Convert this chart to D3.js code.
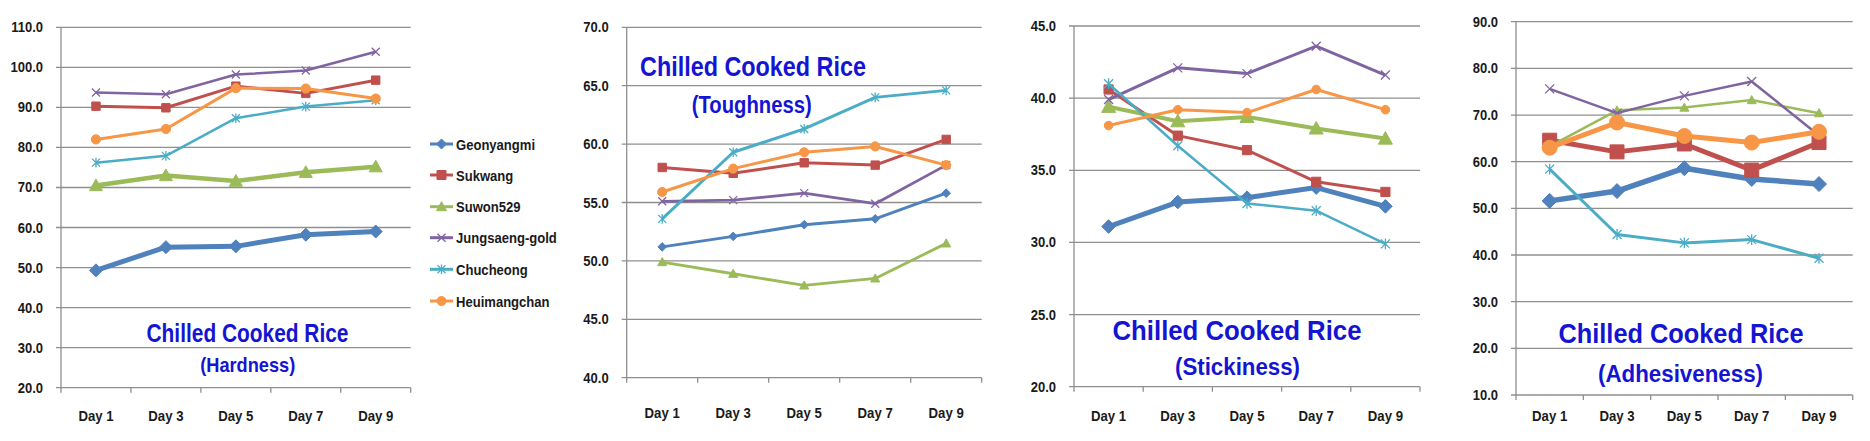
<!DOCTYPE html>
<html>
<head>
<meta charset="utf-8">
<script src="https://cdn.jsdelivr.net/npm/d3@7"></script>
<style>
  html, body { margin: 0; padding: 0; background: #fff; }
  svg { display: block; }
  text { font-family: "Liberation Sans", Arial, sans-serif; }
</style>
</head>
<body>
<svg id="chart" width="1870" height="441"></svg>
<script>
// ---------- DATA ----------
const categories = ["Day 1", "Day 3", "Day 5", "Day 7", "Day 9"];
const seriesNames = ["Geonyangmi", "Sukwang", "Suwon529", "Jungsaeng-gold", "Chucheong", "Heuimangchan"];

// order of rows follows seriesNames
const hardness = [
  [49.3, 55.1, 55.3, 58.2, 59.0],
  [90.3, 89.9, 95.3, 93.5, 96.8],
  [70.5, 73.0, 71.6, 73.8, 75.2],
  [93.7, 93.3, 98.2, 99.2, 103.9],
  [76.2, 77.9, 87.3, 90.2, 91.8],
  [82.0, 84.6, 94.8, 94.7, 92.2]
];
const toughness = [
  [51.2, 52.1, 53.1, 53.6, 55.8],
  [58.0, 57.5, 58.4, 58.2, 60.4],
  [49.9, 48.9, 47.9, 48.5, 51.5],
  [55.1, 55.2, 55.8, 54.9, 58.2],
  [53.6, 59.3, 61.3, 64.0, 64.6],
  [55.9, 57.9, 59.3, 59.8, 58.2]
];
const stickiness = [
  [31.1, 32.8, 33.1, 33.8, 32.5],
  [40.6, 37.4, 36.4, 34.2, 33.5],
  [39.4, 38.4, 38.7, 37.9, 37.2],
  [39.9, 42.1, 41.7, 43.6, 41.6],
  [41.0, 36.7, 32.7, 32.2, 29.9],
  [38.1, 39.2, 39.0, 40.6, 39.2]
];
const adhesiveness = [
  [51.6, 53.7, 58.6, 56.3, 55.2],
  [64.6, 62.1, 63.8, 58.2, 64.1],
  [63.3, 71.0, 71.6, 73.2, 70.4],
  [75.6, 70.4, 74.1, 77.2, 65.6],
  [58.4, 44.4, 42.6, 43.3, 39.3],
  [63.0, 68.4, 65.5, 64.1, 66.4]
];

const hardnessTicks = [20, 30, 40, 50, 60, 70, 80, 90, 100, 110];
const toughnessTicks = [40, 45, 50, 55, 60, 65, 70];
const stickinessTicks = [20, 25, 30, 35, 40, 45];
const adhesivenessTicks = [10, 20, 30, 40, 50, 60, 70, 80, 90];

const titleMain = "Chilled Cooked Rice";
const titleSubs = ["(Hardness)", "(Toughness)", "(Stickiness)", "(Adhesiveness)"];

// ---------- STYLE ----------
const colors = ["#4F81BD", "#C0504D", "#9BBB59", "#8064A2", "#4BACC6", "#F79646"];
const shapes = ["diamond", "square", "triangle", "x", "star", "circle"];

const panels = [
  { values: hardness, ticks: hardnessTicks, sub: titleSubs[0],
    x0: 61, x1: 410.7, yTop: 27.3, yBot: 387.7, labY: 421,
    lw: [5, 3, 4.5, 2.5, 2.5, 3], ms: [6.5, 4.2, 6.5, 4, 4, 4.6],
    t1: { x: 247.5, y: 341.7, size: 25, len: 202 }, t2: { x: 247.7, y: 371.7, size: 21, len: 95 } },
  { values: toughness, ticks: toughnessTicks, sub: titleSubs[1],
    x0: 626.7, x1: 981.7, yTop: 27.3, yBot: 377.7, labY: 418,
    lw: [3, 3, 2.8, 2.8, 3, 3], ms: [4.3, 4.2, 4.5, 4, 4, 4.6],
    t1: { x: 753, y: 76, size: 28, len: 226 }, t2: { x: 751.7, y: 113.3, size: 23, len: 120 } },
  { values: stickiness, ticks: stickinessTicks, sub: titleSubs[2],
    x0: 1074, x1: 1420, yTop: 26, yBot: 386.7, labY: 421,
    lw: [5, 3, 4, 3, 2.5, 3], ms: [6.8, 4.6, 7, 4.5, 4.5, 4.3],
    t1: { x: 1237, y: 340, size: 28, len: 249 }, t2: { x: 1237.5, y: 375, size: 23, len: 125 } },
  { values: adhesiveness, ticks: adhesivenessTicks, sub: titleSubs[3],
    x0: 1516, x1: 1852.7, yTop: 21.7, yBot: 395, labY: 421,
    lw: [5.5, 5, 2.5, 2.5, 3, 5], ms: [7.5, 7, 4.5, 4.5, 4.5, 7.5],
    t1: { x: 1681, y: 343.3, size: 28, len: 245 }, t2: { x: 1680.5, y: 381.7, size: 23, len: 165 } }
];

const gridColor = "#8f8f8f";
const textColor = "#1a1a1a";
const titleColor = "#1414d2";

// narrow a text's glyphs horizontally to mimic the condensed bold face of the original
function condense(sel, ratio) {
  sel.each(function () {
    const w = this.getComputedTextLength();
    d3.select(this).attr("textLength", w * ratio).attr("lengthAdjust", "spacingAndGlyphs");
  });
}

function markerPath(shape, r) {
  switch (shape) {
    case "diamond": return `M0,${-r}L${r},0L0,${r}L${-r},0Z`;
    case "square": return `M${-r},${-r}H${r}V${r}H${-r}Z`;
    case "triangle": return `M0,${-r}L${r},${r * 0.8}L${-r},${r * 0.8}Z`;
    case "x": return `M${-r},${-r}L${r},${r}M${r},${-r}L${-r},${r}`;
    case "star": return `M${-r},${-r}L${r},${r}M${r},${-r}L${-r},${r}M0,${-r * 1.2}V${r * 1.2}`;
  }
  return "";
}

function drawMarker(g, shape, color, r, x, y) {
  if (shape === "circle") {
    g.append("circle").attr("cx", x).attr("cy", y).attr("r", r)
      .attr("fill", color).attr("stroke", color).attr("stroke-width", 1);
  } else if (shape === "x" || shape === "star") {
    g.append("path").attr("d", markerPath(shape, r))
      .attr("transform", `translate(${x},${y})`)
      .attr("fill", "none").attr("stroke", color).attr("stroke-width", 1.3);
  } else {
    g.append("path").attr("d", markerPath(shape, r))
      .attr("transform", `translate(${x},${y})`)
      .attr("fill", color).attr("stroke", color).attr("stroke-width", 1);
  }
}

const svg = d3.select("#chart");

panels.forEach(p => {
  const g = svg.append("g");
  const x = d3.scaleBand().domain(categories).range([p.x0, p.x1]).padding(0);
  const y = d3.scaleLinear().domain(d3.extent(p.ticks)).range([p.yBot, p.yTop]);
  const cx = c => x(c) + x.bandwidth() / 2;

  // gridlines + left ticks
  g.selectAll("line.grid").data(p.ticks).enter().append("line")
    .attr("x1", p.x0 - 5).attr("x2", p.x1)
    .attr("y1", d => y(d)).attr("y2", d => y(d))
    .attr("stroke", gridColor).attr("stroke-width", 1.3);

  // y axis line
  g.append("line").attr("x1", p.x0).attr("x2", p.x0)
    .attr("y1", p.yTop).attr("y2", p.yBot)
    .attr("stroke", gridColor).attr("stroke-width", 1.3);

  // bottom ticks at category boundaries
  const bounds = categories.map(c => x(c)).concat([p.x1]);
  g.selectAll("line.bt").data(bounds).enter().append("line")
    .attr("x1", d => d).attr("x2", d => d)
    .attr("y1", p.yBot).attr("y2", p.yBot + 5)
    .attr("stroke", gridColor).attr("stroke-width", 1.3);

  // y labels
  const fmt = d3.format(".1f");
  g.selectAll("text.yl").data(p.ticks).enter().append("text")
    .attr("x", p.x0 - 18).attr("y", d => y(d))
    .attr("text-anchor", "end").attr("dominant-baseline", "central")
    .attr("font-size", 14).attr("font-weight", "bold").attr("fill", textColor)
    .text(d => fmt(d))
    .call(condense, 0.93);

  // x labels
  g.selectAll("text.xl").data(categories).enter().append("text")
    .attr("x", d => cx(d)).attr("y", p.labY)
    .attr("text-anchor", "middle")
    .attr("font-size", 15.5).attr("font-weight", "bold").attr("fill", textColor)
    .text(d => d)
    .call(condense, 0.85);

  // title
  g.append("text").attr("x", p.t1.x).attr("y", p.t1.y)
    .attr("text-anchor", "middle").attr("font-size", p.t1.size).attr("font-weight", "bold")
    .attr("fill", titleColor).attr("textLength", p.t1.len).attr("lengthAdjust", "spacingAndGlyphs")
    .text(titleMain);
  g.append("text").attr("x", p.t2.x).attr("y", p.t2.y)
    .attr("text-anchor", "middle").attr("font-size", p.t2.size).attr("font-weight", "bold")
    .attr("fill", titleColor).attr("textLength", p.t2.len).attr("lengthAdjust", "spacingAndGlyphs")
    .text(p.sub);

  // series
  const line = d3.line().x((d, i) => cx(categories[i])).y(d => y(d));
  p.values.forEach((vals, si) => {
    const sg = g.append("g");
    sg.append("path").attr("d", line(vals))
      .attr("fill", "none").attr("stroke", colors[si])
      .attr("stroke-width", p.lw[si]).attr("stroke-linejoin", "round");
    vals.forEach((v, i) => drawMarker(sg, shapes[si], colors[si], p.ms[si], cx(categories[i]), y(v)));
  });
});

// legend
const legY = [144, 175, 206.7, 237.7, 269.3, 301];
const legMs = [5, 4.5, 5, 4, 4, 4.5];
const lg = svg.append("g");
seriesNames.forEach((name, i) => {
  lg.append("line").attr("x1", 430).attr("x2", 453)
    .attr("y1", legY[i]).attr("y2", legY[i])
    .attr("stroke", colors[i]).attr("stroke-width", 3);
  drawMarker(lg, shapes[i], colors[i], legMs[i], 441.5, legY[i]);
  lg.append("text").attr("x", 456).attr("y", legY[i])
    .attr("dominant-baseline", "central")
    .attr("font-size", 15).attr("font-weight", "bold").attr("fill", textColor)
    .text(name)
    .call(condense, 0.87);
});
</script>
</body>
</html>
